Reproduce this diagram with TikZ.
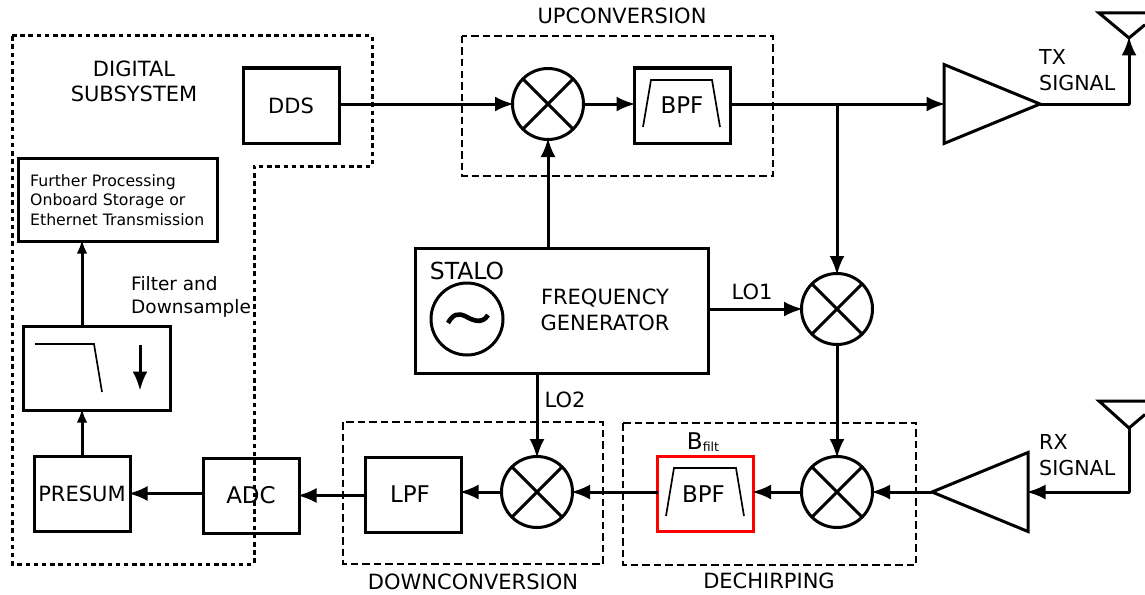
\documentclass[tikz,border=0pt]{standalone}
\usepackage{fontspec}
\setmainfont{DejaVu Sans}
\usetikzlibrary{arrows.meta,shapes.geometric}
\tikzset{
  blockbox/.style={draw, line width=3pt, minimum width=96pt, minimum height=75pt, inner sep=0pt, outer sep=0pt, font=\fontsize{23}{25}\selectfont, align=center},
  mixer/.style={draw, circle, line width=3pt, minimum size=71pt, inner sep=0pt, outer sep=0pt},
  amp/.style={draw, isosceles triangle, isosceles triangle stretches, line width=3pt, minimum width=79pt, minimum height=96pt, inner sep=0pt, outer sep=0pt, anchor=lower side},
  grouplabel/.style={font=\fontsize{21}{25.5}\selectfont, align=center, inner sep=0pt},
  sidelabel/.style={font=\fontsize{20.6}{26}\selectfont, align=left, inner sep=0pt, anchor=west},
  groupbox/.style={draw, line width=2.4pt, dash pattern=on 7.5pt off 4pt},
  digitalbox/.style={draw, line width=3pt, dash pattern=on 4.5pt off 3.7pt},
  filtershape/.style={draw, line width=1.7pt},
  bigtip/.style={-{Latex[length=19pt,width=15pt]}, shorten >=-1.5pt},
  smalltip/.style={-{Latex[length=14pt,width=10.5pt]}, shorten >=-1.5pt}
}
\begin{document}
\begin{tikzpicture}[x=1pt,y=-1pt]
  \useasboundingbox (0,0) rectangle (1145,594);

  % dashed groups
  \draw[digitalbox] (12,36) -- (372,36) -- (372,166) -- (254,166) -- (254,564) -- (12,564) -- cycle;
  \draw[groupbox] (462,36) rectangle (773,176);
  \draw[groupbox] (343,422) rectangle (603,564);
  \draw[groupbox] (623,423) rectangle (916,565);

  \begin{scope}[every node/.style={blockbox}]
    \node[font=\fontsize{21}{25}\selectfont] (dds) at (291,105.5) {DDS};
    \node (bpfup)   at (682,105.5) {BPF};
    \node[draw=red] (bpfdech) at (705.5,494) {BPF\kern4pt};
    \node (lpf)     at (413,494.5) {LPF\kern6pt};
    \node (adc)     at (251,495.5) {ADC};
    \node[font=\fontsize{21}{25}\selectfont] (presum)  at (82,493.5) {PRESUM};
    \node[minimum width=147pt, minimum height=84pt] (filt) at (96.5,368) {};
    \node[minimum width=199pt, minimum height=83pt] (further) at (117.5,199.5) {};
    \node[minimum width=293pt, minimum height=125pt] (stalo) at (561.5,310.5) {};
  \end{scope}

  \begin{scope}[every node/.style={mixer}]
    \node (mixup)   at (548,104) {};
    \node (mixlo)   at (837,309) {};
    \node (mixdech) at (837,492) {};
    \node (mixdown) at (537,492) {};
    \node[minimum size=72pt] (osc) at (467,319) {};
  \end{scope}

  % crosses
  \foreach \m in {mixup,mixlo,mixdech,mixdown} {
    \draw[line width=3pt] (\m.45) -- (\m.225);
    \draw[line width=3pt] (\m.135) -- (\m.315);
  }

  \node[amp] (txamp) at (944,104) {};
  \node[amp, shape border rotate=180] (rxamp) at (1028,492) {};

  % antennas run off the page edge
  \coordinate (txant) at (1129,38);
  \coordinate (rxant) at (1129,428);
  \draw[line width=3pt] (1145,13) -- (1099,13) -- (txant) -- (1145,24.7);
  \draw[line width=3pt] (1145,401) -- (1099,401) -- (rxant) -- (1145,414.5);

  \coordinate (txjoint) at (837,104);
  \coordinate (txcorner) at (1129,104);
  \coordinate (rxcorner) at (1129,492);

  \begin{scope}[every edge/.style={draw, line width=3pt}]
    \path (dds.east |- mixup.west) edge[bigtip] (mixup.west);
    \path (mixup.east) edge[bigtip] (bpfup.west |- mixup.east);
    \path (bpfup.east |- txjoint) edge[bigtip] (txamp.lower side |- txjoint);
    \path (txjoint) edge[bigtip] (mixlo.north);
    \path (stalo.north -| mixup.south) edge[bigtip] (mixup.south);
    \path (stalo.east |- mixlo.west) edge[bigtip] (mixlo.west);
    \path (stalo.south -| mixdown.north) edge[bigtip] (mixdown.north);
    \path (mixlo.south) edge[bigtip] (mixdech.north);
    \path (rxamp.apex) edge[bigtip] (mixdech.east);
    \path (mixdech.west) edge[bigtip] (bpfdech.east |- mixdech.west);
    \path (bpfdech.west |- mixdown.east) edge[bigtip] (mixdown.east);
    \path (mixdown.west) edge[bigtip] (lpf.east |- mixdown.west);
    \path (lpf.west |- adc.west) edge[bigtip] (adc.east);
    \path (adc.west |- presum.east) edge[bigtip] (presum.east);
    \path (presum.north) edge[smalltip] (filt.south -| presum.north);
    \path (filt.north -| presum.north) edge[smalltip] (further.south -| presum.north);
    \path (txamp.apex) edge[line cap=round] (txcorner);
    \path (txcorner) edge[bigtip, line cap=round] (txant);
    \path (rxant) edge[line cap=round] (rxcorner);
    \path (rxcorner) edge[bigtip, line cap=round] (rxamp.lower side |- rxcorner);
  \end{scope}

  % filter sketches
  \draw[filtershape] (643,127) -- (651,80) -- (712,80) -- (720,127);
  \draw[filtershape] (666,516) -- (674,468) -- (736,468) -- (744,516);
  \draw[filtershape] (35,344) -- (94,344) -- (102,392);
  \coordinate (downtop) at (140,345);
  \coordinate (downend) at (140,389);
  \draw[line width=3pt, bigtip] (downtop) -- (downend);

  % oscillator wave
  \draw[line width=4.6pt] (448,323) .. controls (453,314) and (458,313) .. (465,316) .. controls (472,320) and (482,325) .. (488,315);

  \node[grouplabel] (digitallabel) at (134,81.5) {DIGITAL\\SUBSYSTEM};
  \node[grouplabel] (uplabel)      at (622,16) {UPCONVERSION};
  \node[grouplabel] (downlabel)    at (473,582) {DOWNCONVERSION};
  \node[grouplabel] (dechlabel)    at (769,581) {DECHIRPING};
  \node[grouplabel] (freqlabel)    at (605,310) {FREQUENCY\\GENERATOR};
  \node[font=\fontsize{23.5}{25}\selectfont, inner sep=0pt] (stalolabel) at (467,271) {STALO};
  \node[grouplabel] (lo1label) at (752,292) {LO1};
  \node[grouplabel] (lo2label) at (565,400) {LO2};
  \node[sidelabel, font=\fontsize{18.5}{23}\selectfont] (filtlabel) at (131,297) {Filter and\\Downsample};
  \node[sidelabel] (txlabel)   at (1039,70) {TX\\SIGNAL};
  \node[sidelabel] (rxlabel)   at (1039,455) {RX\\SIGNAL};
  \node[font=\fontsize{15.7}{19.5}\selectfont, align=left, inner sep=0pt, anchor=west] (furtherlabel) at (30,200) {Further Processing\\Onboard Storage or\\Ethernet Transmission};
  \node[font=\fontsize{23}{25}\selectfont, inner sep=0pt] (bfiltlabel) at (703,442) {B\raisebox{-2pt}{\fontsize{12.5}{12.5}\selectfont filt}};
\end{tikzpicture}
\end{document}
